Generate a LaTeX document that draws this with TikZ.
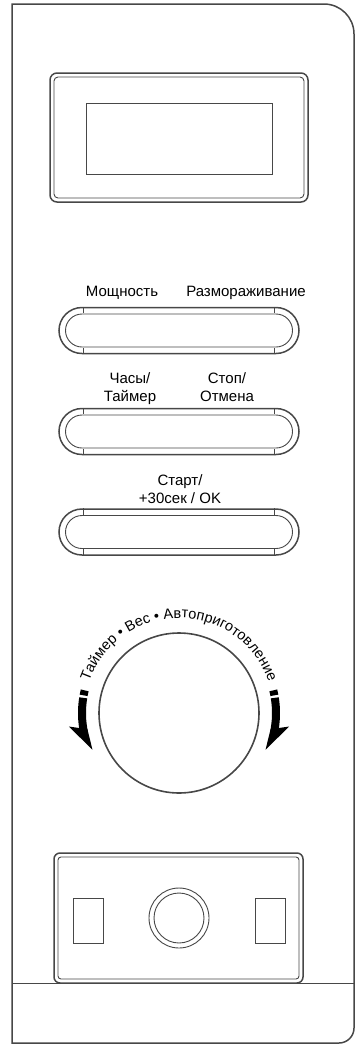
\documentclass[tikz,border=0pt]{standalone}
\usepackage{fontspec}
\setmainfont{Liberation Sans}
\usepackage{tikz}
\usetikzlibrary{decorations.text}
\definecolor{lineColor}{rgb}{0.28,0.28,0.28}

\begin{document}
\begin{tikzpicture}[x=1pt,y=1pt]

            \tikzstyle{panelLine} = [draw=lineColor, line width=1.5pt];
            \tikzstyle{thinLine} = [draw=lineColor, line width=0.9pt];
            \tikzstyle{btnOuter} = [panelLine, rounded corners=23pt, minimum width=240pt, minimum height=46pt, inner sep=0pt];
            \tikzstyle{btnInner} = [thinLine, rounded corners=16.5pt, minimum width=227pt, minimum height=33pt, inner sep=0pt];
            \tikzstyle{btnText} = [inner sep=0pt, anchor=north, align=center, font=\fontsize{15}{18}\selectfont];

            \useasboundingbox (0,0) rectangle (355,-1045);

            % panel outline
            \draw[panelLine] (12,-1043) -- (12,-4) -- (324,-4) arc (90:0:30) -- (354,-1028) arc (0:-90:15) -- cycle;
            \draw[thinLine] (12,-983) -- (354,-983);

            % display
            \node[panelLine, rounded corners=7pt, minimum width=258pt, minimum height=129pt] (display) at (179,-137.5) {};
            \node[thinLine, rounded corners=4pt, minimum width=250pt, minimum height=121pt] (displayIn) at (179,-137.5) {};
            \node[thinLine, minimum width=186pt, minimum height=71pt] (screen) at (179,-138.5) {};

            % buttons
            \foreach \name/\y in {power/330.5, clock/431.5, start/532} {
              \node[btnOuter] (\name) at (179,-\y) {};
              \node[btnInner] (\name-in) at (179,-\y) {};
              \draw[thinLine] (\name.north west) ++(25,0) -- ++(0,-6.5);
              \draw[thinLine] (\name.south west) ++(25,0) -- ++(0,6.5);
              \draw[thinLine] (\name.north east) ++(-25,0) -- ++(0,-6.5);
              \draw[thinLine] (\name.south east) ++(-25,0) -- ++(0,6.5);
            }

            \node[btnText] (powerTxt)   at (122,-286) {Мощность};
            \node[btnText] (defrostTxt) at (246,-286) {Размораживание};
            \node[btnText] (clockTxt)   at (130,-372.7) {Часы/\\Таймер};
            \node[btnText] (stopTxt)    at (227,-372.7) {Стоп/\\Отмена};
            \node[btnText] (startTxt)   at (180,-474) {Старт/\\+30сек / OK};

            % knob
            \node[draw=lineColor, line width=1.6pt, circle, minimum size=160pt, inner sep=0pt] (knob) at (179,-713) {};
            \path[decorate, decoration={text along path, text align=center,
                text={|\fontsize{14.5}{16}\selectfont|Таймер • Вес • Автоприготовление}}]
                (knob.center) ++(164:95) arc (164:16:95);

            \begin{scope}[shift={(knob.center)}]
              \fill (166.5:93) arc (166.5:169.5:93) -- (169.5:101) arc (169.5:166.5:101) -- cycle;
              \draw[line width=8pt] (171:97) arc (171:192:97);
              \fill (187:111) -- (203:94) -- (190:93) -- cycle;

              \fill (13.5:93) arc (13.5:10.5:93) -- (10.5:101) arc (10.5:13.5:101) -- cycle;
              \draw[line width=8pt] (9:97) arc (9:-12:97);
              \fill (-7:111) -- (-23:94) -- (-10:93) -- cycle;
            \end{scope}

            % bottom box
            \node[panelLine, rounded corners=6pt, minimum width=249pt, minimum height=130pt] (ventBox) at (178.5,-918) {};
            \node[thinLine, rounded corners=3pt, minimum width=241pt, minimum height=122pt] (ventBoxIn) at (178.5,-918) {};
            \node[thinLine, minimum width=30pt, minimum height=45pt] (leftSlot) at (88,-920.5) {};
            \node[thinLine, minimum width=30pt, minimum height=45pt] (rightSlot) at (270,-920.5) {};
            \node[thinLine, circle, minimum size=60pt, inner sep=0pt] (lamp) at (179,-918) {};
            \node[thinLine, circle, minimum size=50pt, inner sep=0pt] (lampIn) at (179,-918) {};
          \end{tikzpicture}
\end{document}
